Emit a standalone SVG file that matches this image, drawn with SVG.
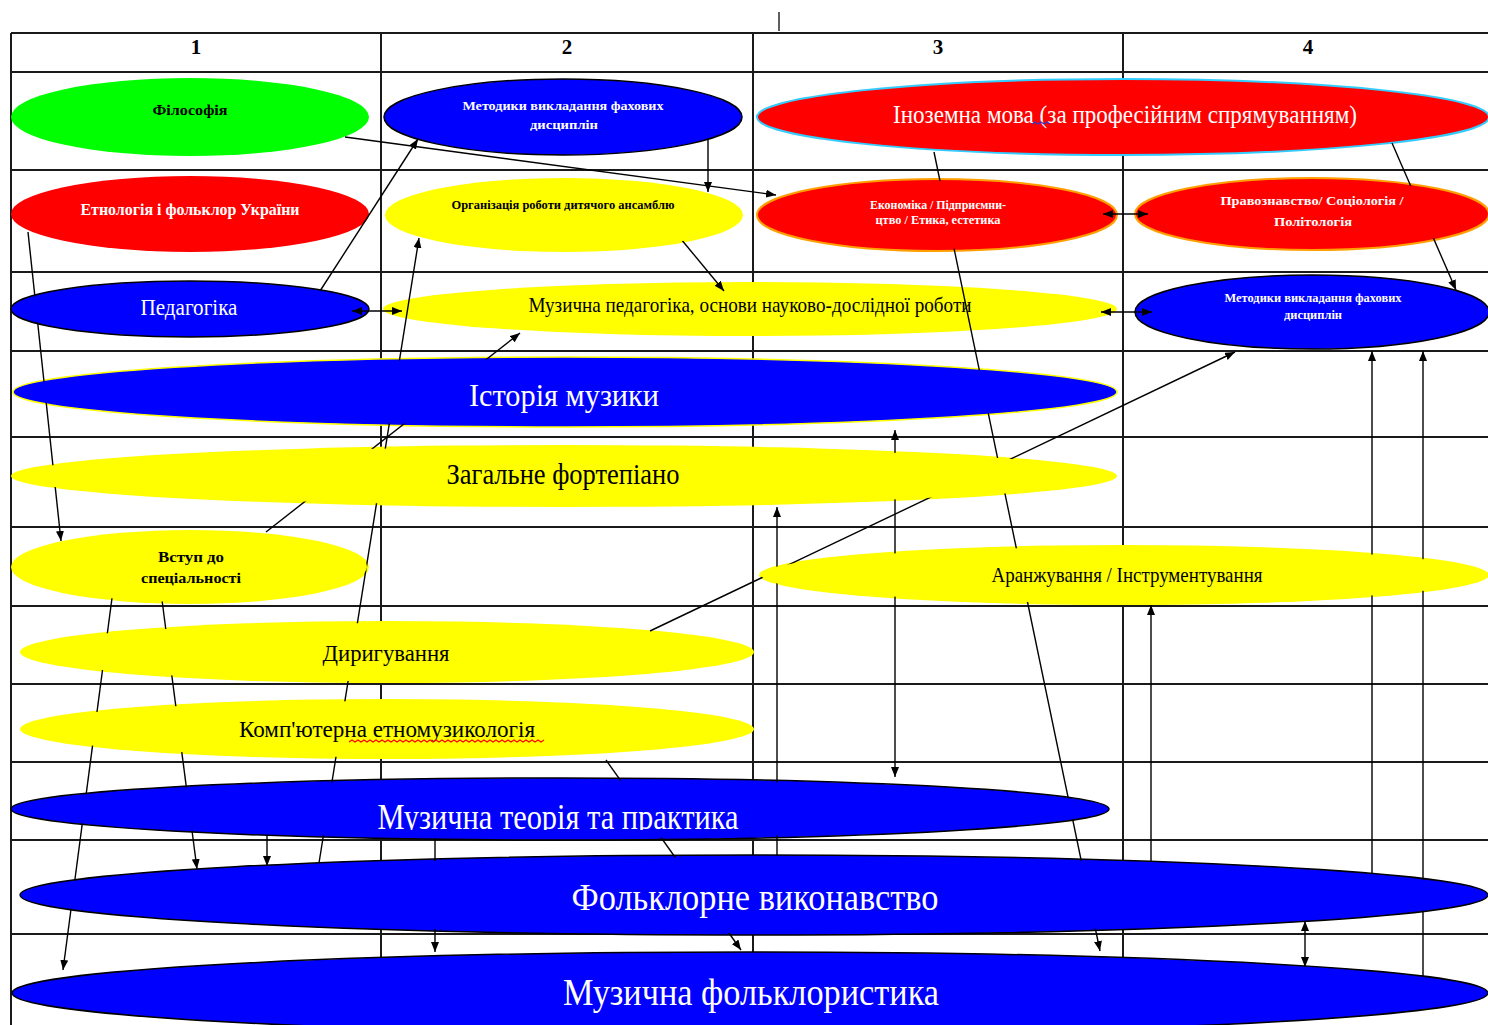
<svg xmlns="http://www.w3.org/2000/svg" width="1488" height="1025" viewBox="0 0 1488 1025">
<style>
.tl{stroke:#1a1a1a;stroke-width:2;fill:none}
.cn{stroke:#000;stroke-width:1.4;fill:none}
.ar{marker-end:url(#ah)}
.da{marker-start:url(#ah);marker-end:url(#ah)}
.m{mask:url(#occ)}
text{font-family:"Liberation Serif","Times New Roman",serif;text-anchor:middle}
.w{fill:#fff}
.k{fill:#000}
.b{font-weight:bold}
.blue{fill:#0000ff}
.yel{fill:#ffff00}
.red{fill:#ff0000}
.ol{stroke:#000;stroke-width:1.5}
</style>
<defs>
<marker id="ah" viewBox="0 0 10 8" refX="10" refY="4" markerWidth="10" markerHeight="8" markerUnits="userSpaceOnUse" orient="auto-start-reverse">
<path d="M0,0 L10,4 L0,8 z" fill="#000"/>
</marker>
<clipPath id="clipMT"><rect x="300" y="790" width="520" height="40"/></clipPath>
<mask id="occ" maskUnits="userSpaceOnUse" x="0" y="0" width="1488" height="1025">
<rect width="1488" height="1025" fill="#fff"/>
<g fill="#000">
<ellipse cx="190" cy="117" rx="177" ry="37"/>
<ellipse cx="563" cy="117" rx="177" ry="36"/>
<ellipse cx="1123" cy="117" rx="364" ry="36"/>
<ellipse cx="190" cy="214" rx="177" ry="36"/>
<ellipse cx="564" cy="215" rx="177" ry="35"/>
<ellipse cx="937" cy="215" rx="178" ry="34"/>
<ellipse cx="1312" cy="214" rx="175" ry="34"/>
<ellipse cx="190" cy="309" rx="177" ry="26"/>
<ellipse cx="1312" cy="312" rx="175" ry="35"/>
<ellipse cx="565" cy="392" rx="550" ry="33"/>
<ellipse cx="564" cy="476" rx="551" ry="29"/>
<ellipse cx="190" cy="567" rx="177" ry="35"/>
<ellipse cx="1124" cy="575" rx="363" ry="28"/>
<ellipse cx="387" cy="652" rx="365" ry="29"/>
<ellipse cx="387" cy="729" rx="365" ry="28"/>
<ellipse cx="560" cy="809" rx="547" ry="29"/>
<ellipse cx="754" cy="895" rx="732" ry="38"/>
<ellipse cx="750" cy="993" rx="736" ry="39"/>
</g>
</mask>
</defs>
<rect width="1488" height="1025" fill="#fff"/>
<g id="table">
<line class="tl" x1="779" y1="12" x2="779" y2="31" style="stroke-width:1.4"/>
<line class="tl" x1="11" y1="33" x2="1488" y2="33"/>
<line class="tl" x1="11" y1="72" x2="1488" y2="72"/>
<line class="tl" x1="11" y1="170" x2="1488" y2="170"/>
<line class="tl" x1="11" y1="272" x2="1488" y2="272"/>
<line class="tl" x1="11" y1="351" x2="1488" y2="351"/>
<line class="tl" x1="11" y1="437" x2="1488" y2="437"/>
<line class="tl" x1="11" y1="527" x2="1488" y2="527"/>
<line class="tl" x1="11" y1="606" x2="1488" y2="606"/>
<line class="tl" x1="11" y1="684" x2="1488" y2="684"/>
<line class="tl" x1="11" y1="762" x2="1488" y2="762"/>
<line class="tl" x1="11" y1="840" x2="1488" y2="840"/>
<line class="tl" x1="11" y1="934" x2="1488" y2="934"/>
<line class="tl" x1="11" y1="33" x2="11" y2="1025"/>
<line class="tl" x1="381" y1="33" x2="381" y2="1025"/>
<line class="tl" x1="753" y1="33" x2="753" y2="1025"/>
<line class="tl" x1="1123" y1="33" x2="1123" y2="1025"/>
<text class="k b" x="196" y="54" font-size="21">1</text>
<text class="k b" x="567" y="54" font-size="21">2</text>
<text class="k b" x="938" y="54" font-size="21">3</text>
<text class="k b" x="1308" y="54" font-size="21">4</text>
</g>
<g id="n-muzped">
<ellipse class="yel" cx="750" cy="309" rx="367" ry="27"/>
<text class="k" x="750" y="312" font-size="21" textLength="443" lengthAdjust="spacingAndGlyphs">Музична педагогіка, основи науково-дослідної роботи</text>
</g>
<g id="n-filosofia">
<ellipse cx="190" cy="117" rx="179" ry="39" fill="#00ff00"/>
<text class="k b" x="190" y="115" font-size="15" textLength="75" lengthAdjust="spacingAndGlyphs">Філософія</text>
</g>
<g id="n-metodyky1">
<ellipse class="blue ol" cx="563" cy="117" rx="179" ry="38"/>
<text class="w b" x="563" y="110" font-size="13" textLength="201" lengthAdjust="spacingAndGlyphs">Методики викладання фахових</text>
<text class="w b" x="564" y="129" font-size="13" textLength="68" lengthAdjust="spacingAndGlyphs">дисциплін</text>
</g>
<g id="n-inozemna">
<ellipse class="red" cx="1123" cy="117" rx="366" ry="38" stroke="#33ccff" stroke-width="2"/>
<text class="w" x="1125" y="123" font-size="25" textLength="464" lengthAdjust="spacingAndGlyphs">Іноземна мова  (за професійним спрямуванням)</text>
<path d="M1032,124 l3,-2 l3,2 l3,-2 l3,2 l3,-2 l3,2" fill="none" stroke="#3333cc" stroke-width="1.2"/>
</g>
<g id="n-etnologia">
<ellipse class="red" cx="190" cy="214" rx="179" ry="38"/>
<text class="w b" x="190" y="215" font-size="16" textLength="219" lengthAdjust="spacingAndGlyphs">Етнологія і фольклор України</text>
</g>
<g id="n-organizatsia">
<ellipse class="yel" cx="564" cy="215" rx="179" ry="37"/>
<text class="k b" x="563" y="209" font-size="12" textLength="223" lengthAdjust="spacingAndGlyphs">Організація роботи дитячого ансамблю</text>
</g>
<g id="n-ekonomika">
<ellipse class="red" cx="937" cy="215" rx="180" ry="36" stroke="#ffa000" stroke-width="2"/>
<text class="w b" x="938" y="209" font-size="12" textLength="136" lengthAdjust="spacingAndGlyphs">Економіка / Підприємни-</text>
<text class="w b" x="938" y="224" font-size="12" textLength="125" lengthAdjust="spacingAndGlyphs">цтво / Етика, естетика</text>
</g>
<g id="n-pravo">
<ellipse class="red" cx="1312" cy="214" rx="177" ry="36" stroke="#ffa000" stroke-width="2"/>
<text class="w b" x="1312" y="205" font-size="13" textLength="183" lengthAdjust="spacingAndGlyphs">Правознавство/ Соціологія /</text>
<text class="w b" x="1313" y="226" font-size="13" textLength="78" lengthAdjust="spacingAndGlyphs">Політологія</text>
</g>
<g id="n-pedagogika">
<ellipse class="blue ol" cx="190" cy="309" rx="179" ry="28"/>
<text class="w" x="189" y="315" font-size="24" textLength="97" lengthAdjust="spacingAndGlyphs">Педагогіка</text>
</g>
<g id="n-metodyky2">
<ellipse class="blue ol" cx="1312" cy="312" rx="177" ry="37"/>
<text class="w b" x="1313" y="302" font-size="12" textLength="177" lengthAdjust="spacingAndGlyphs">Методики викладання фахових</text>
<text class="w b" x="1313" y="319" font-size="12" textLength="58" lengthAdjust="spacingAndGlyphs">дисциплін</text>
</g>
<g id="n-istoria">
<ellipse class="blue" cx="565" cy="392" rx="552" ry="35" stroke="#ffff00" stroke-width="1.5"/>
<text class="w" x="564" y="406" font-size="32" textLength="190" lengthAdjust="spacingAndGlyphs">Історія музики</text>
</g>
<g id="n-fortepiano">
<ellipse class="yel" cx="564" cy="476" rx="553" ry="31"/>
<text class="k" x="563" y="484" font-size="30" textLength="233" lengthAdjust="spacingAndGlyphs">Загальне фортепіано</text>
</g>
<g id="n-vstup">
<ellipse class="yel" cx="190" cy="567" rx="179" ry="37"/>
<text class="k b" x="191" y="562" font-size="15" textLength="66" lengthAdjust="spacingAndGlyphs">Вступ до</text>
<text class="k b" x="191" y="583" font-size="15" textLength="100" lengthAdjust="spacingAndGlyphs">спеціальності</text>
</g>
<g id="n-aranzhuvannia">
<ellipse class="yel" cx="1124" cy="575" rx="365" ry="30"/>
<text class="k" x="1127" y="582" font-size="21" textLength="271" lengthAdjust="spacingAndGlyphs">Аранжування / Інструментування</text>
</g>
<g id="n-dyryhuvannia">
<ellipse class="yel" cx="387" cy="652" rx="367" ry="31"/>
<text class="k" x="386" y="661" font-size="24" textLength="127" lengthAdjust="spacingAndGlyphs">Диригування</text>
</g>
<g id="n-kompiuterna">
<ellipse class="yel" cx="387" cy="729" rx="367" ry="30"/>
<text class="k" x="387" y="737" font-size="24" textLength="296" lengthAdjust="spacingAndGlyphs">Комп'ютерна етномузикологія</text>
<path d="M349,742 l3,-2 l3,2 l3,-2 l3,2 l3,-2 l3,2 l3,-2 l3,2 l3,-2 l3,2 l3,-2 l3,2 l3,-2 l3,2 l3,-2 l3,2 l3,-2 l3,2 l3,-2 l3,2 l3,-2 l3,2 l3,-2 l3,2 l3,-2 l3,2 l3,-2 l3,2 l3,-2 l3,2 l3,-2 l3,2 l3,-2 l3,2 l3,-2 l3,2 l3,-2 l3,2 l3,-2 l3,2 l3,-2 l3,2 l3,-2 l3,2 l3,-2 l3,2 l3,-2 l3,2 l3,-2 l3,2 l3,-2 l3,2 l3,-2 l3,2 l3,-2 l3,2 l3,-2 l3,2 l3,-2 l3,2 l3,-2 l3,2 l3,-2 l3,2 l3,-2" fill="none" stroke="#ff0000" stroke-width="1.1"/>
</g>
<g id="n-muzteoria">
<ellipse class="blue ol" cx="560" cy="809" rx="549" ry="31"/>
<text class="w" x="558" y="829" font-size="36" textLength="361" lengthAdjust="spacingAndGlyphs" clip-path="url(#clipMT)">Музична теорія та практика</text>
</g>
<g id="n-folkvykon">
<ellipse class="blue ol" cx="754" cy="895" rx="734" ry="40"/>
<text class="w" x="755" y="910" font-size="37" textLength="367" lengthAdjust="spacingAndGlyphs">Фольклорне виконавство</text>
</g>
<g id="n-folklorystyka">
<ellipse class="blue ol" cx="750" cy="993" rx="738" ry="41"/>
<text class="w" x="751" y="1005" font-size="37" textLength="376" lengthAdjust="spacingAndGlyphs">Музична фольклористика</text>
</g>
<g id="connectors">
<line class="cn ar m" x1="345" y1="137" x2="776" y2="195"/>
<line class="cn ar m" x1="320" y1="291" x2="418" y2="139"/>
<line class="cn ar m" x1="708" y1="140" x2="708" y2="192"/>
<line class="cn ar m" x1="676" y1="233" x2="724" y2="291"/>
<line class="cn ar m" x1="319" y1="863" x2="419" y2="238"/>
<line class="cn ar m" x1="266" y1="532" x2="520" y2="333"/>
<line class="cn ar m" x1="28" y1="232" x2="61" y2="541"/>
<line class="cn ar m" x1="112" y1="598" x2="63" y2="970"/>
<line class="cn ar m" x1="162" y1="600" x2="197" y2="869"/>
<line class="cn ar m" x1="267" y1="836" x2="267" y2="866"/>
<line class="cn ar m" x1="435" y1="838" x2="435" y2="952"/>
<line class="cn ar m" x1="606" y1="760" x2="741" y2="950"/>
<line class="cn ar m" x1="650" y1="631" x2="1235" y2="352"/>
<line class="cn ar m" x1="934" y1="152" x2="1100" y2="951"/>
<line class="cn ar m" x1="1392" y1="143" x2="1456" y2="290"/>
<line class="cn ar m" x1="777" y1="856" x2="777" y2="507"/>
<line class="cn da m" x1="895" y1="430" x2="895" y2="777"/>
<line class="cn ar m" x1="1151" y1="861" x2="1151" y2="605"/>
<line class="cn ar m" x1="1372" y1="873" x2="1372" y2="351"/>
<line class="cn ar m" x1="1423" y1="976" x2="1423" y2="351"/>
<line class="cn da" x1="1305" y1="921" x2="1305" y2="967"/>
<line class="cn da" x1="352" y1="311" x2="402" y2="311"/>
<line class="cn da" x1="1101" y1="312" x2="1152" y2="312"/>
<line class="cn da" x1="1103" y1="214" x2="1148" y2="214"/>
</g>
</svg>
